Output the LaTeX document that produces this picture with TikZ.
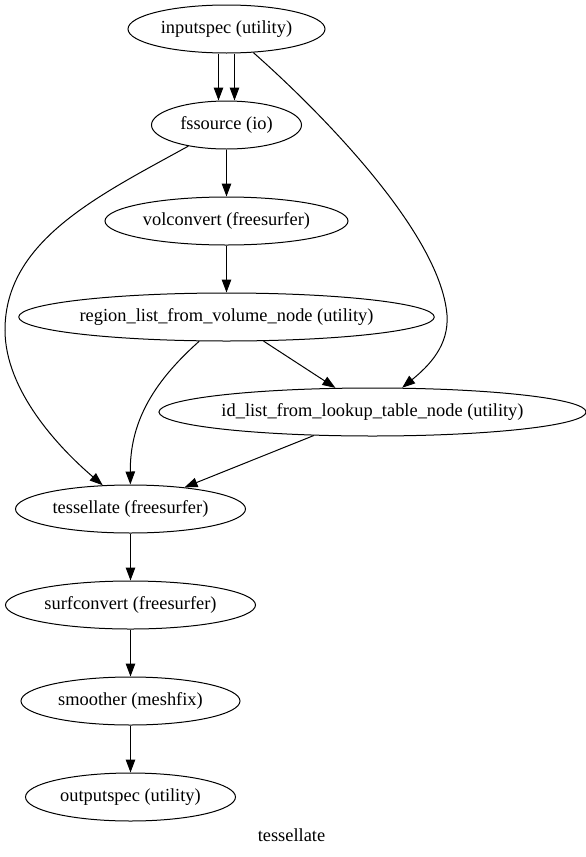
\documentclass[tikz,border=0pt]{standalone}
\usepackage{fontspec}
\setmainfont{Liberation Serif}
\usetikzlibrary{shapes.geometric,arrows.meta}

\begin{document}
\begin{tikzpicture}[x=1pt,y=-1pt,
  font=\fontsize{18.4}{22}\selectfont,
  proc/.style={draw,ellipse,inner sep=0pt,minimum height=48pt,line width=1pt},
  flow/.style={line width=1pt,-{Triangle[length=13pt,width=9.5pt]}}]

\useasboundingbox (0,0) rectangle (586,857);

\node[proc,minimum width=197pt] (inp) at (226.5,29) {inputspec (utility)};
\node[proc,minimum width=150pt] (fs) at (226.5,125) {fssource (io)};
\node[proc,minimum width=243pt] (vol) at (226.5,221) {volconvert (freesurfer)};
\node[proc,minimum width=407pt] (reg) at (226.5,317) {region\_list\_from\_volume\_node (utility)};
\node[proc,minimum width=413pt] (idl) at (372.5,412) {id\_list\_from\_lookup\_table\_node (utility)};
\node[proc,minimum width=230pt] (tes) at (130.5,509) {tessellate (freesurfer)};
\node[proc,minimum width=250pt] (surf) at (130.5,605) {surfconvert (freesurfer)};
\node[proc,minimum width=219pt] (smo) at (130.5,701) {smoother (meshfix)};
\node[proc,minimum width=210pt] (outp) at (130.5,797) {outputspec (utility)};

% two links from inputspec to fssource
\draw[flow] ([xshift=-8pt]inp.south) -- ([xshift=-8pt]fs.north);
\draw[flow] ([xshift=8pt]inp.south) -- ([xshift=8pt]fs.north);
\draw[flow] (inp) .. controls (305,98) and (440,228) .. (447,315)
  .. controls (449,345) and (430,365) .. (idl);
\draw[flow] (fs) .. controls (100,195) and (5,240) .. (5,330)
  .. controls (5,390) and (58,447) .. (tes);
\draw[flow] (fs) -- (vol);
\draw[flow] (vol) -- (reg);
\draw[flow] (reg) -- (idl);
\draw[flow] (reg) .. controls (150,385) and (130,425) .. (tes);
\draw[flow] (idl) -- (tes);
\draw[flow] (tes) -- (surf);
\draw[flow] (surf) -- (smo);
\draw[flow] (smo) -- (outp);

\node (title) at (291.5,835) {tessellate};
\end{tikzpicture}
\end{document}
